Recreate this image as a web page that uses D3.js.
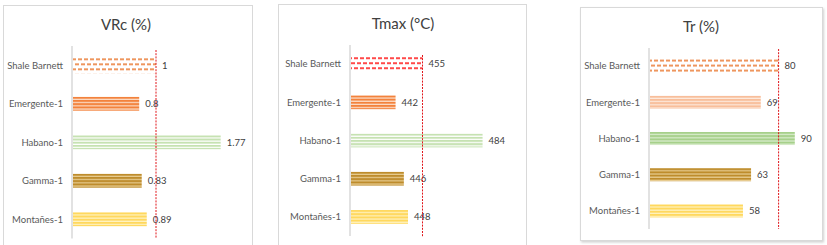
<!DOCTYPE html>
<html><head><meta charset="utf-8">
<script src="https://cdn.jsdelivr.net/npm/d3@7"></script>
<style>body{margin:0;background:#fff}svg{display:block}text{font-family:Lato,"Open Sans",sans-serif}</style>
</head><body>
<script>
const categories = ["Shale Barnett","Emergente-1","Habano-1","Gamma-1","Montañes-1"];
const vrcValues = [1, 0.8, 1.77, 0.83, 0.89];
const tmaxValues = [455, 442, 484, 446, 448];
const trValues = [80, 69, 90, 63, 58];
const titles = ["VRc (%)", "Tmax (°C)", "Tr (%)"];
const refValues = [1, 455, 80];
const valueLabels = [["1","0.8","1.77","0.83","0.89"],["455","442","484","446","448"],["80","69","90","63","58"]];

const W = 827, H = 245;
const svg = d3.select("body").append("svg").attr("width", W).attr("height", H);
const defs = svg.append("defs");

// layout per panel
const panels = [
  {values: vrcValues, box:[3,5,249,250], domain:[0,2], range:[72,240], yr:[46,238.5], titleX:126, titleY:30, labelX:63, line:[50,238],
   schemes:["dashO","orange","lgreen","brown","yellow"]},
  {values: tmaxValues, box:[278,4,248,250], domain:[420,490], range:[350,495], yr:[45,236], titleX:403, titleY:29, labelX:341, line:[55,237],
   schemes:["dashR","orange","lgreen","brown","yellow"]},
  {values: trValues, box:[580,7,242,233], domain:[0,100], range:[649,811], yr:[48,229], titleX:701, titleY:32, labelX:640, line:[49,229],
   schemes:["dashO","peach","green","brown","yellow"]}
];

const stripeColors = {
  orange:["#F3823C","#FCE0CC"],
  peach:["#F8BE9A","#FDEBDF"],
  lgreen:["#C6E2B2","#FFFFFF"],
  green:["#A6D08A","#DDEED2"],
  brown:["#BE8C2C","#E9CF95"],
  yellow:["#FFD85E","#FFF2C0"]
};
const dashColors = {dashO:"#EE965E", dashR:"#FF4A4A"};

let pid = 0;
function makePattern(scheme, yTop){
  const id = "p" + (pid++);
  if (scheme.startsWith("dash")){
    const c = dashColors[scheme];
    const p = defs.append("pattern").attr("id", id).attr("patternUnits","userSpaceOnUse")
      .attr("x", 0).attr("y", yTop).attr("width", 6).attr("height", 10);
    p.append("rect").attr("x",0).attr("y",1).attr("width",4).attr("height",2).attr("fill",c);
    p.append("rect").attr("x",3).attr("y",6).attr("width",4).attr("height",2).attr("fill",c);
    p.append("rect").attr("x",-3).attr("y",6).attr("width",4).attr("height",2).attr("fill",c);
  } else {
    const [a,b] = stripeColors[scheme];
    const p = defs.append("pattern").attr("id", id).attr("patternUnits","userSpaceOnUse")
      .attr("x", 0).attr("y", yTop).attr("width", 4).attr("height", 3.2);
    p.append("rect").attr("width",4).attr("height",3.2).attr("fill",b);
    p.append("rect").attr("y",0).attr("width",4).attr("height",2).attr("fill",a);
  }
  return id;
}

// shadow filter for third panel
const f = defs.append("filter").attr("id","sh").attr("x","-5%").attr("y","-5%").attr("width","110%").attr("height","110%");
f.append("feDropShadow").attr("dx",1).attr("dy",1.5).attr("stdDeviation",1).attr("flood-color","#000").attr("flood-opacity",0.18);

panels.forEach((P, i) => {
  const g = svg.append("g");
  g.append("rect").attr("x",P.box[0]+0.5).attr("y",P.box[1]+0.5).attr("width",P.box[2]).attr("height",P.box[3])
    .attr("fill","#fff").attr("stroke","#D9D9D9").attr("stroke-width",1)
    .attr("filter", i===2 ? "url(#sh)" : null);
  g.append("text").attr("x",P.titleX).attr("y",P.titleY).attr("text-anchor","middle")
    .attr("font-size",15).attr("fill","#404040").text(titles[i]);

  const x = d3.scaleLinear().domain(P.domain).range(P.range);
  const y = d3.scaleBand().domain(categories).range(P.yr).paddingInner(0.64).paddingOuter(0.32);

  // axis line
  g.append("line").attr("x1",x(P.domain[0])).attr("x2",x(P.domain[0]))
    .attr("y1",P.yr[0]).attr("y2",P.yr[1]).attr("stroke","#D9D9D9").attr("stroke-width",1.5);

  // bars
  categories.forEach((c, k) => {
    const v = P.values[k];
    const bh = k===0 ? y.bandwidth()+2 : y.bandwidth();
    const yt = y(c) + (y.bandwidth()-bh)/2;
    const id = makePattern(P.schemes[k], yt);
    g.append("rect").attr("x",x(P.domain[0])+1).attr("y",yt)
      .attr("width",x(v)-x(P.domain[0])-1).attr("height",bh)
      .attr("fill",`url(#${id})`);
    g.append("text").attr("x",P.labelX).attr("y",y(c)+y.bandwidth()/2).attr("dy","0.35em")
      .attr("text-anchor","end").attr("font-size",9.5).attr("fill","#595959").text(c);
    g.append("text").attr("x",x(v)+6).attr("y",y(c)+y.bandwidth()/2).attr("dy","0.35em")
      .attr("font-size",9.5).attr("fill","#404040").text(valueLabels[i][k]);
  });

  // reference dashed line
  g.append("line").attr("x1",x(refValues[i])).attr("x2",x(refValues[i]))
    .attr("y1",P.line[0]).attr("y2",P.line[1])
    .attr("stroke","#E0161B").attr("stroke-width",1).attr("stroke-dasharray","2,1.2");
});
</script>
</body></html>
